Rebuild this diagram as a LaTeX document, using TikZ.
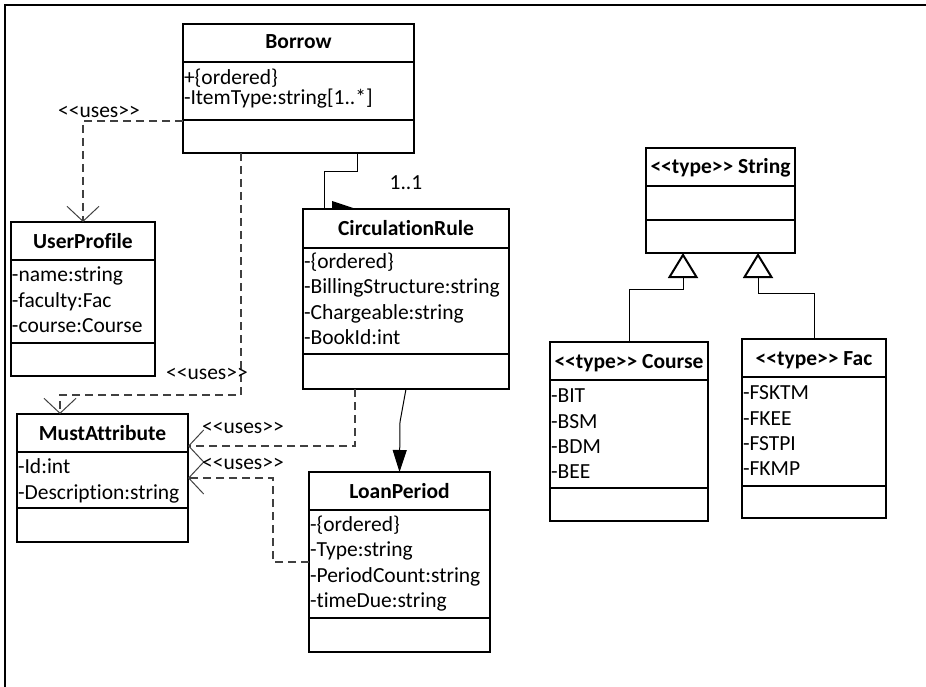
\documentclass[tikz,border=0pt]{standalone}
\usepackage{fontspec}
\setmainfont{Carlito}[Ligatures={TeX,NoCommon}]
\usetikzlibrary{arrows.meta,calc}
\begin{document}
\begin{tikzpicture}[x=1pt,y=-1pt,
  every node/.style={inner sep=0pt, outer sep=0pt, font=\fontsize{21.5}{25}\selectfont},
  classbox/.style={draw, line width=2pt, anchor=north west},
  boxline/.style={line width=2pt},
  title/.style={anchor=base, font=\fontsize{21.5}{25}\selectfont\bfseries},
  attr/.style={anchor=base west},
  lbl/.style={anchor=base},
  uses/.style={draw=black!75, line width=1.2pt, dash pattern=on 8pt off 5pt,
    -{Straight Barb[length=15pt,width=32pt,line width=1pt]}},
  assoc/.style={line width=1pt},
  navig/.style={line width=1pt, -{Triangle[length=22pt,width=14pt]}},
  gen/.style={line width=1pt, -{Triangle[open,fill=white,length=25pt,width=30pt,line width=2pt]}},
]
\useasboundingbox (0,0) rectangle (926,687);
% frame
\draw[line width=2pt] (5,687) -- (5,5) -- (926,5);

% ---------- Borrow ----------
\node[classbox, minimum width=231pt, minimum height=129pt] (borrow) at (183,24) {};
\draw[boxline] (borrow.west |- 0,62) -- (borrow.east |- 0,62);
\draw[boxline] (borrow.west |- 0,120) -- (borrow.east |- 0,120);
\node[title] (borrow-t) at (298.5,49) {Borrow};
\node[attr] (borrow-a1) at (184,85) {+\{ordered\}};
\node[attr] (borrow-a2) at (184,105) {-ItemType:string[1..*]};

% ---------- UserProfile ----------
\node[classbox, minimum width=144pt, minimum height=154pt] (user) at (11,222) {};
\draw[boxline] (user.west |- 0,260) -- (user.east |- 0,260);
\draw[boxline] (user.west |- 0,343) -- (user.east |- 0,343);
\node[title] (user-t) at (83,248) {UserProfile};
\node[attr] (user-a1) at (12,281) {-name:string};
\node[attr] (user-a2) at (12,307) {-faculty:Fac};
\node[attr] (user-a3) at (12,332) {-course:Course};

% ---------- CirculationRule ----------
\node[classbox, minimum width=206pt, minimum height=180pt] (circ) at (303,209) {};
\draw[boxline] (circ.west |- 0,248) -- (circ.east |- 0,248);
\draw[boxline] (circ.west |- 0,354) -- (circ.east |- 0,354);
\node[title] (circ-t) at (406,235) {CirculationRule};
\node[attr] (circ-a1) at (304,268) {-\{ordered\}};
\node[attr] (circ-a2) at (304,293) {-BillingStructure:string};
\node[attr] (circ-a3) at (304,319) {-Chargeable:string};
\node[attr] (circ-a4) at (304,344) {-BookId:int};

% ---------- MustAttribute ----------
\node[classbox, minimum width=171pt, minimum height=128pt] (must) at (17,414) {};
\draw[boxline] (must.west |- 0,452) -- (must.east |- 0,452);
\draw[boxline] (must.west |- 0,508) -- (must.east |- 0,508);
\node[title] (must-t) at (102.5,440) {MustAttribute};
\node[attr] (must-a1) at (18,473) {-Id:int};
\node[attr] (must-a2) at (18,499) {-Description:string};

% ---------- LoanPeriod ----------
\node[classbox, minimum width=181pt, minimum height=180pt] (loan) at (309,472) {};
\draw[boxline] (loan.west |- 0,510) -- (loan.east |- 0,510);
\draw[boxline] (loan.west |- 0,618) -- (loan.east |- 0,618);
\node[title] (loan-t) at (399.5,498) {LoanPeriod};
\node[attr] (loan-a1) at (310,531) {-\{ordered\}};
\node[attr] (loan-a2) at (310,556) {-Type:string};
\node[attr] (loan-a3) at (310,582) {-PeriodCount:string};
\node[attr] (loan-a4) at (310,607) {-timeDue:string};

% ---------- <<type>> String ----------
\node[classbox, minimum width=149pt, minimum height=105pt] (string) at (646,148) {};
\draw[boxline] (string.west |- 0,186) -- (string.east |- 0,186);
\draw[boxline] (string.west |- 0,220) -- (string.east |- 0,220);
\node[title] (string-t) at (720.5,174) {<{}<type>{}> String};

% ---------- <<type>> Course ----------
\node[classbox, minimum width=158pt, minimum height=179pt] (course) at (550,342) {};
\draw[boxline] (course.west |- 0,380) -- (course.east |- 0,380);
\draw[boxline] (course.west |- 0,488) -- (course.east |- 0,488);
\node[title] (course-t) at (629,368) {<{}<type>{}> Course};
\node[attr] (course-a1) at (551,402) {-BIT};
\node[attr] (course-a2) at (551,428) {-BSM};
\node[attr] (course-a3) at (551,453) {-BDM};
\node[attr] (course-a4) at (551,478) {-BEE};

% ---------- <<type>> Fac ----------
\node[classbox, minimum width=144pt, minimum height=179pt] (fac) at (742,339) {};
\draw[boxline] (fac.west |- 0,377) -- (fac.east |- 0,377);
\draw[boxline] (fac.west |- 0,486) -- (fac.east |- 0,486);
\node[title] (fac-t) at (814,365) {<{}<type>{}> Fac};
\node[attr] (fac-a1) at (743,399) {-FSKTM};
\node[attr] (fac-a2) at (743,425) {-FKEE};
\node[attr] (fac-a3) at (743,450) {-FSTPI};
\node[attr] (fac-a4) at (743,475) {-FKMP};

% ---------- dependencies ----------
\draw[uses] ([yshift=-97pt]borrow.north west) -| (user.north);
\node[lbl] (uses-user) at (99,118) {<{}<uses>{}>};

\draw[uses] ([xshift=58pt]borrow.south west) -- ++(0,242) -| ([xshift=43pt]must.north west);
\node[lbl] (uses-borrow) at (207,379) {<{}<uses>{}>};

\draw[uses] ([xshift=52pt]circ.south west) |- ([yshift=-32pt]must.north east);
\node[lbl] (uses-circ) at (243,433) {<{}<uses>{}>};

\draw[uses] ([yshift=-90pt]loan.north west) -- ++(-36,0) |- (must.east);
\node[lbl] (uses-loan) at (243,469) {<{}<uses>{}>};

% ---------- associations ----------
\draw[assoc] ([xshift=174pt]borrow.south west) -- ++(0,19) -| ([xshift=21pt]circ.north west);
\fill (332,201) -- (353,208) -- (332,208) -- cycle;
\node[lbl] (mult) at (406,190) {1..1};

\draw[navig] ([xshift=103pt]circ.south west) -- ++(-6,33) -- (loan.north);

% ---------- generalisations ----------
\draw[gen] (course.north) -- ++(0,-53) -| ([xshift=-37.5pt]string.south);
\draw[gen] (fac.north) -- ++(0,-46) -| ([xshift=37.5pt]string.south);
\end{tikzpicture}
\end{document}
